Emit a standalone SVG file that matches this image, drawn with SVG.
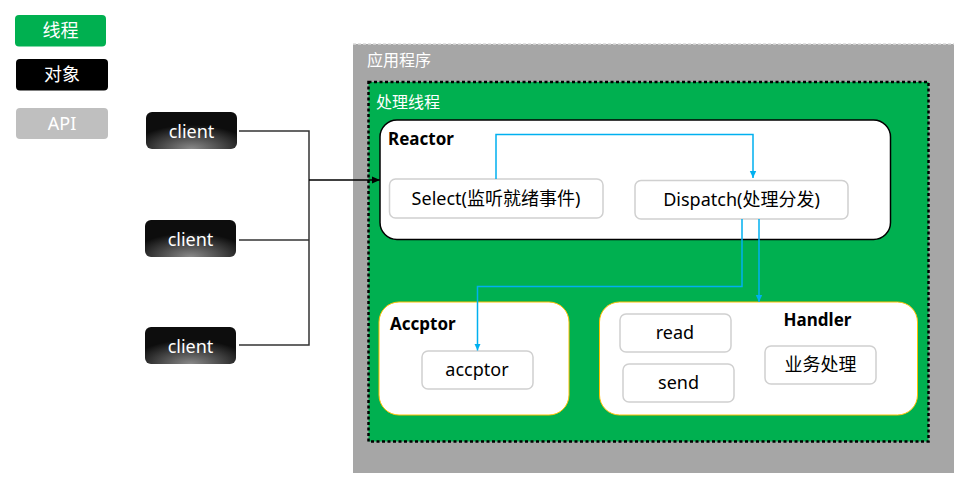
<svg xmlns="http://www.w3.org/2000/svg" width="967" height="480" viewBox="0 0 967 480">
<defs>
<radialGradient id="cg" cx="50%" cy="100%" r="65%">
<stop offset="0" stop-color="#8a8a8a"/>
<stop offset="1" stop-color="#0d0d0d"/>
</radialGradient>
<marker id="ab" markerWidth="8" markerHeight="8" refX="7" refY="4" orient="auto" markerUnits="userSpaceOnUse">
<path d="M0,0.8 L7,4 L0,7.2 Z" fill="#00b0f0"/>
</marker>
<marker id="ak" markerWidth="9" markerHeight="9" refX="8" refY="4.5" orient="auto" markerUnits="userSpaceOnUse">
<path d="M0,1 L8,4.5 L0,8 Z" fill="#000"/>
</marker>
</defs>
<style>
text{font-family:"Noto Sans","Noto Sans CJK SC",sans-serif;}
.t18{font-size:18px;text-anchor:middle;}
.w{fill:#fff;}
.k{fill:#000;}
.lab{font-size:16px;fill:#fff;}
.bold{font-size:17px;font-weight:bold;fill:#000;}
.inner{fill:#fff;stroke:#d0d0d0;stroke-width:1.5;}
.client{fill:url(#cg);}
.sub{fill:#fff;stroke:#ffc000;stroke-width:1;}
.cl{fill:none;stroke:#333;stroke-width:1.5;}
.bl{fill:none;stroke:#00b0f0;stroke-width:1.5;}
</style>

<g id="legend-thread"><rect x="15" y="15" width="91" height="31.5" rx="4" fill="#00b050"/><text class="t18 w" x="60.5" y="37">线程</text></g>
<g id="legend-object"><rect x="16" y="59" width="92" height="31.5" rx="4" fill="#000"/><text class="t18 w" x="62" y="81">对象</text></g>
<g id="legend-api"><rect x="16" y="108" width="92" height="31" rx="4" fill="#bfbfbf"/><text class="t18 w" x="62" y="130">API</text></g>

<g id="client1"><rect class="client" x="146" y="112" width="91" height="37" rx="6"/><text class="t18 w" x="191.5" y="137.5">client</text></g>
<g id="client2"><rect class="client" x="145" y="220" width="91" height="37" rx="6"/><text class="t18 w" x="190.5" y="245.5">client</text></g>
<g id="client3"><rect class="client" x="145" y="327" width="91" height="37" rx="6"/><text class="t18 w" x="190.5" y="352.5">client</text></g>

<g id="app">
<rect x="353" y="44" width="601" height="429" fill="#a6a6a6"/>
<line x1="353" y1="44" x2="954" y2="44" stroke="#d9d9d9" stroke-width="1.5" stroke-dasharray="3 2"/>
<text class="lab" x="367" y="66">应用程序</text>
</g>

<g id="thread">
<rect x="368.5" y="82" width="560" height="359.5" fill="#00b050" stroke="#000" stroke-width="2.5" stroke-dasharray="3 2.5"/>
<text class="lab" x="376" y="108">处理线程</text>
</g>

<g id="reactor">
<rect x="380" y="120" width="510.5" height="119.5" rx="17" fill="#fff" stroke="#000" stroke-width="1.5"/>
<text class="bold" x="388" y="145">Reactor</text>
</g>
<g id="select"><rect class="inner" x="389.5" y="179" width="213.5" height="39" rx="6"/><text class="t18 k" x="496" y="205">Select(监听就绪事件)</text></g>
<g id="dispatch"><rect class="inner" x="635" y="180.5" width="213" height="38.5" rx="6"/><text class="t18 k" x="741.5" y="206">Dispatch(处理分发)</text></g>

<g id="accptor-group">
<rect class="sub" x="379" y="302" width="190" height="113" rx="20"/>
<text class="bold" x="390" y="330">Accptor</text>
</g>
<g id="accptor"><rect class="inner" x="422" y="351" width="111" height="38" rx="6"/><text class="t18 k" x="477" y="376">accptor</text></g>

<g id="handler-group">
<rect class="sub" x="599.5" y="302" width="318" height="113" rx="20"/>
<text class="bold" x="817.5" y="326" text-anchor="middle">Handler</text>
</g>
<g id="read"><rect class="inner" x="620" y="314" width="111" height="38" rx="6"/><text class="t18 k" x="675" y="339">read</text></g>
<g id="send"><rect class="inner" x="623" y="364" width="111" height="38" rx="6"/><text class="t18 k" x="678.5" y="389">send</text></g>
<g id="business"><rect class="inner" x="765" y="346" width="111" height="38" rx="6"/><text class="t18 k" x="820.5" y="371">业务处理</text></g>

<g id="connectors">
<polyline class="cl" points="239,131 309,131 309,345 239,345"/>
<line class="cl" x1="239" y1="240" x2="309" y2="240"/>
<line x1="309" y1="180" x2="380" y2="180" stroke="#000" stroke-width="1.5" marker-end="url(#ak)"/>
<polyline class="bl" points="496,179 496,134.5 753,134.5 753,178" marker-end="url(#ab)"/>
<polyline class="bl" points="742,219 742,286.5 477.5,286.5 477.5,350.5" marker-end="url(#ab)"/>
<line class="bl" x1="759" y1="219" x2="759" y2="302" marker-end="url(#ab)"/>
</g>
</svg>
